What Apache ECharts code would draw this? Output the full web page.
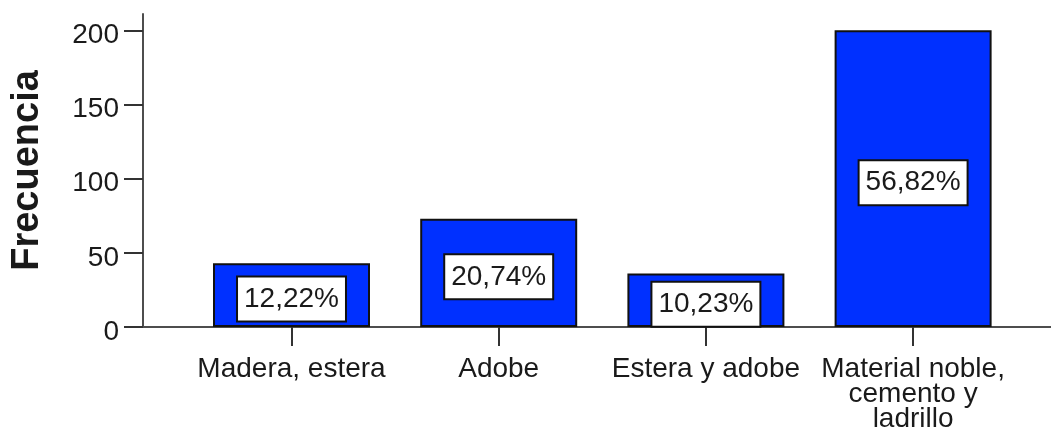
<!DOCTYPE html>
<html>
<head>
<meta charset="utf-8">
<script src="https://cdn.jsdelivr.net/npm/echarts@6/dist/echarts.min.js"></script>
<style>
  html, body { margin: 0; padding: 0; background: #ffffff; }
  #chart { width: 1051px; height: 430px; }
</style>
</head>
<body>
<div id="chart"></div>
<script>
// Wall material of dwellings: counts per category
const categories = ['Madera, estera', 'Adobe', 'Estera y adobe', 'Material noble,\ncemento y\nladrillo'];
const counts = [43, 73, 36, 200];
const yTicks = [0, 50, 100, 150, 200];

const total = counts.reduce((a, b) => a + b, 0);
const pctLabel = v => (v / total * 100).toFixed(2).replace('.', ',') + '%';

const FONT = "'Liberation Sans', Arial, sans-serif";
const chart = echarts.init(document.getElementById('chart'), null, { renderer: 'canvas' });

chart.setOption({
  animation: false,
  backgroundColor: '#ffffff',
  grid: { left: 143, right: 0, top: 14, bottom: 103, containLabel: false, outerBoundsMode: 'none' },
  xAxis: {
    type: 'value',
    min: -0.7167,
    max: 3.6655,
    splitLine: { show: false },
    axisLine: { show: true, lineStyle: { color: '#4d4d4d', width: 2 } },
    axisTick: {
      show: true,
      customValues: categories.map((c, i) => i),
      length: 19,
      lineStyle: { color: '#333333', width: 2 }
    },
    axisLabel: {
      customValues: categories.map((c, i) => i),
      formatter: v => categories[Math.round(v)] || '',
      fontFamily: FONT,
      fontSize: 28,
      lineHeight: 25,
      color: '#1a1a1a',
      margin: 30
    }
  },
  yAxis: {
    type: 'value',
    min: 0,
    max: 211,
    name: 'Frecuencia',
    nameLocation: 'middle',
    nameGap: 96,
    nameTextStyle: { fontFamily: FONT, fontSize: 38, fontWeight: 'bold', color: '#1a1a1a' },
    splitLine: { show: false },
    axisLine: { show: true, onZero: false, lineStyle: { color: '#4d4d4d', width: 2 } },
    axisTick: {
      show: true,
      customValues: yTicks,
      length: 19,
      lineStyle: { color: '#333333', width: 2 }
    },
    axisLabel: {
      customValues: yTicks,
      formatter: v => '{t|' + v + '}',
      margin: 24,
      rich: {
        t: {
          fontFamily: FONT,
          fontSize: 28,
          color: '#1a1a1a',
          lineHeight: 38,
          verticalAlign: 'bottom'
        }
      }
    }
  },
  series: [{
    type: 'bar',
    barWidth: 157,
    data: counts.map((v, i) => [i, v]),
    itemStyle: { color: '#0030ff', borderColor: '#111111', borderWidth: 2 },
    label: {
      show: true,
      position: 'inside',
      offset: [0, 4],
      formatter: p => pctLabel(p.value[1]),
      fontFamily: FONT,
      fontSize: 28,
      lineHeight: 28,
      color: '#1a1a1a',
      backgroundColor: '#ffffff',
      borderColor: '#111111',
      borderWidth: 2,
      padding: [8, 6, 7, 6]
    }
  }]
});
</script>
</body>
</html>
